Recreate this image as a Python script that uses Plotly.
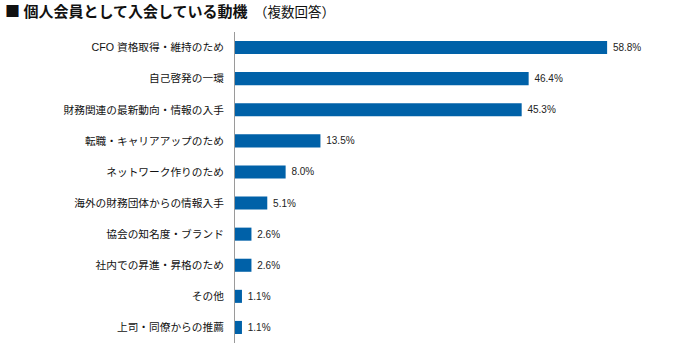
import plotly.graph_objects as go

categories = [
    "CFO 資格取得・維持のため",
    "自己啓発の一環",
    "財務関連の最新動向・情報の入手",
    "転職・キャリアアップのため",
    "ネットワーク作りのため",
    "海外の財務団体からの情報入手",
    "協会の知名度・ブランド",
    "社内での昇進・昇格のため",
    "その他",
    "上司・同僚からの推薦",
]
values = [58.8, 46.4, 45.3, 13.5, 8.0, 5.1, 2.6, 2.6, 1.1, 1.1]

title_main = "個人会員として入会している動機"
title_sub = "（複数回答）"

fig = go.Figure(
    go.Bar(
        x=values,
        y=categories,
        orientation="h",
        marker=dict(color="#0061A8", line=dict(width=0)),
        texttemplate=" %{x:.1f}%",
        textposition="outside",
        textfont=dict(family="Liberation Sans, Arial, sans-serif", size=10, color="#222222"),
        cliponaxis=False,
        hoverinfo="skip",
    )
)

fig.update_layout(
    width=700,
    height=358,
    margin=dict(l=235, r=22, t=32, b=15, autoexpand=False),
    paper_bgcolor="white",
    plot_bgcolor="white",
    bargap=0.58,
    showlegend=False,
    font=dict(family="Liberation Sans, Noto Sans CJK JP, sans-serif", color="#111111"),
    annotations=[
        dict(
            text="<b>■ " + title_main + "</b> <span style='font-size:13.5px'> " + title_sub + "</span>",
            xref="paper", yref="paper",
            x=-232 / 443, y=1 + 22 / 311,
            xanchor="left", yanchor="middle",
            showarrow=False,
            font=dict(family="Noto Sans CJK JP, sans-serif", size=15, color="#111111"),
        )
    ],
)

fig.update_xaxes(
    range=[0, 70],
    visible=False,
    showgrid=False,
    zeroline=False,
    automargin=False,
)
fig.update_yaxes(
    autorange="reversed",
    automargin=False,
    showline=True,
    linecolor="#9a9a9a",
    linewidth=1,
    showgrid=False,
    ticks="outside",
    ticklen=8,
    tickcolor="rgba(0,0,0,0)",
    tickfont=dict(family="Liberation Sans, Noto Sans CJK JP, sans-serif", size=10.7, color="#111111"),
)

fig.write_html(
    "out.html",
    config={"displayModeBar": False},
    post_script="document.body.style.margin='0px';",
)
